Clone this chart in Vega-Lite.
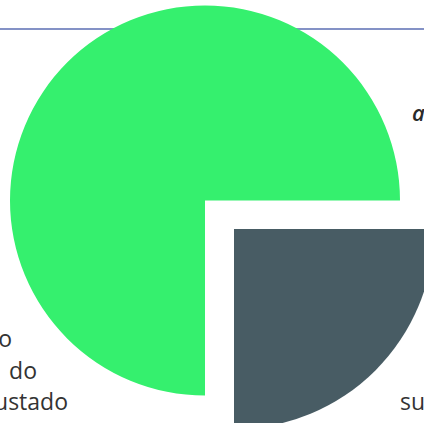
{
  "$schema": "https://vega.github.io/schema/vega-lite/v6.json",
  "width": 424,
  "height": 423,
  "padding": 0,
  "autosize": {"type": "none"},
  "background": "white",
  "config": {"view": {"stroke": null}},
  "datasets": {
    "slices": [
      {"slice": "Maior", "start": 0, "end": 75},
      {"slice": "Menor", "start": 75, "end": 100}
    ],
    "guide": [{"y": 29}],
    "labels": [
      {"t": "o", "x": 12, "y": 347, "grp": "left"},
      {"t": "do", "x": 37, "y": 379, "grp": "left"},
      {"t": "ustado", "x": 68, "y": 410, "grp": "left"},
      {"t": "a", "x": 412, "y": 121, "grp": "top"},
      {"t": "su", "x": 400, "y": 410, "grp": "right"}
    ]
  },
  "layer": [
    {
      "data": {"name": "guide"},
      "mark": {"type": "rule", "color": "#5b6eb3", "strokeWidth": 1.5},
      "encoding": {
        "y": {"field": "y", "type": "quantitative", "scale": {"domain": [0, 423], "reverse": true, "nice": false, "zero": false}, "axis": null}
      }
    },
    {
      "data": {"name": "slices"},
      "transform": [{"filter": "datum.slice === 'Maior'"}],
      "mark": {"type": "arc", "radius": 195, "xOffset": -7, "yOffset": -11},
      "encoding": {
        "theta": {"field": "start", "type": "quantitative", "stack": null, "scale": {"domain": [0, 100], "range": [3.14159265, 9.42477796]}},
        "theta2": {"field": "end"},
        "color": {"field": "slice", "type": "nominal", "scale": {"domain": ["Maior", "Menor"], "range": ["#35f06e", "#485c64"]}, "legend": null}
      }
    },
    {
      "data": {"name": "slices"},
      "transform": [{"filter": "datum.slice === 'Menor'"}],
      "mark": {"type": "arc", "radius": 200, "xOffset": 22, "yOffset": 17.5},
      "encoding": {
        "theta": {"field": "start", "type": "quantitative", "stack": null, "scale": {"domain": [0, 100], "range": [3.14159265, 9.42477796]}},
        "theta2": {"field": "end"},
        "color": {"field": "slice", "type": "nominal", "scale": {"domain": ["Maior", "Menor"], "range": ["#35f06e", "#485c64"]}, "legend": null}
      }
    },
    {
      "data": {"name": "labels"},
      "transform": [{"filter": "datum.grp === 'left'"}],
      "mark": {"type": "text", "align": "right", "baseline": "alphabetic", "font": "Open Sans", "fontSize": 23, "color": "#333333"},
      "encoding": {
        "x": {"field": "x", "type": "quantitative", "scale": {"domain": [0, 424], "nice": false, "zero": false}, "axis": null},
        "y": {"field": "y", "type": "quantitative", "scale": {"domain": [0, 423], "reverse": true, "nice": false, "zero": false}, "axis": null},
        "text": {"field": "t"}
      }
    },
    {
      "data": {"name": "labels"},
      "transform": [{"filter": "datum.grp === 'top'"}],
      "mark": {"type": "text", "align": "left", "baseline": "alphabetic", "font": "Open Sans", "fontSize": 22, "fontStyle": "italic", "fontWeight": 600, "color": "#2a2a2a"},
      "encoding": {
        "x": {"field": "x", "type": "quantitative", "scale": {"domain": [0, 424], "nice": false, "zero": false}, "axis": null},
        "y": {"field": "y", "type": "quantitative", "scale": {"domain": [0, 423], "reverse": true, "nice": false, "zero": false}, "axis": null},
        "text": {"field": "t"}
      }
    },
    {
      "data": {"name": "labels"},
      "transform": [{"filter": "datum.grp === 'right'"}],
      "mark": {"type": "text", "align": "left", "baseline": "alphabetic", "font": "Open Sans", "fontSize": 23, "color": "#333333"},
      "encoding": {
        "x": {"field": "x", "type": "quantitative", "scale": {"domain": [0, 424], "nice": false, "zero": false}, "axis": null},
        "y": {"field": "y", "type": "quantitative", "scale": {"domain": [0, 423], "reverse": true, "nice": false, "zero": false}, "axis": null},
        "text": {"field": "t"}
      }
    }
  ]
}
